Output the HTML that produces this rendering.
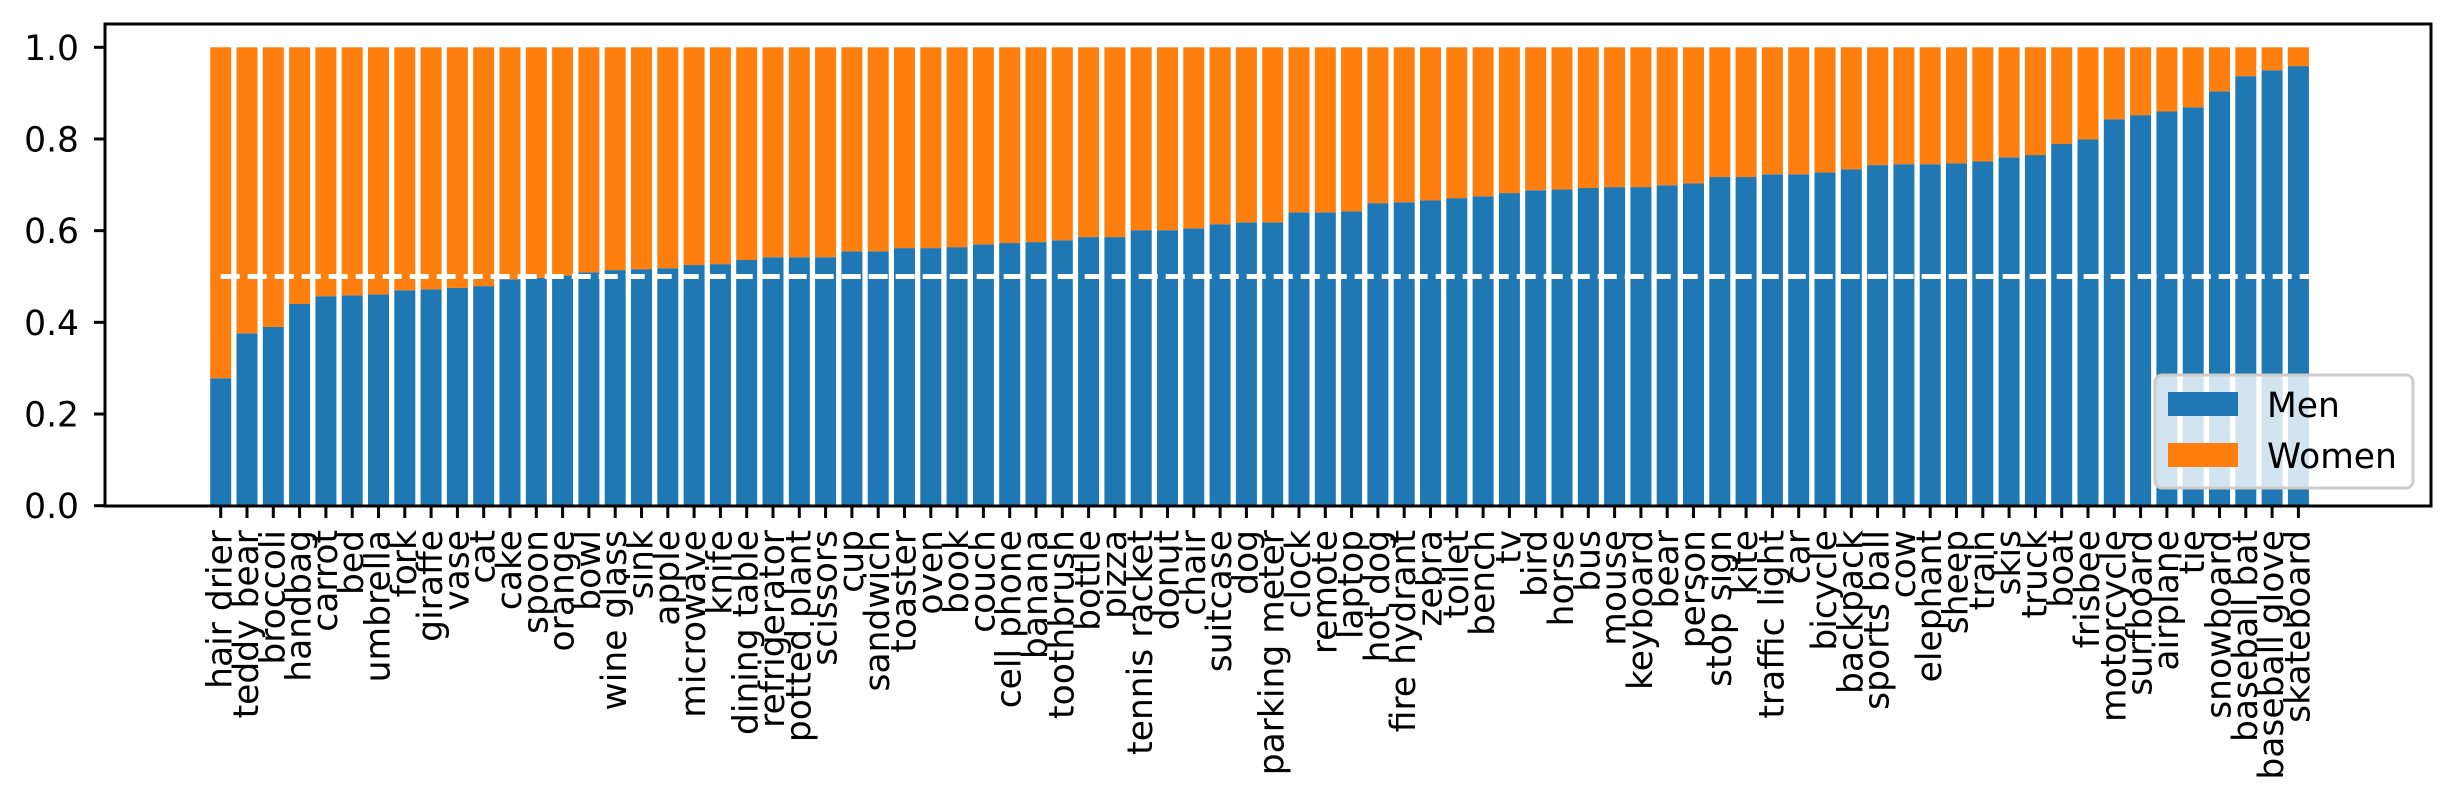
<!DOCTYPE html>
<html><head><meta charset="utf-8"><style>
html,body{margin:0;padding:0;background:#fff;}
svg{display:block;font-family:"DejaVu Sans","Liberation Sans",sans-serif;}
</style></head><body>
<svg id="chart" width="2454" height="806" viewBox="0 0 2454 806" xmlns="http://www.w3.org/2000/svg">
<g id="bars"></g>
<g id="xaxis"></g>
<g id="yaxis"></g>
<line id="refline" stroke="#fff" stroke-width="5" stroke-dasharray="19 8"/>
<rect x="105" y="24" width="2326" height="482" fill="none" stroke="#000" stroke-width="3"/>
<g>
<rect x="2155" y="375" width="258" height="113" rx="7" fill="#fff" fill-opacity="0.8" stroke="#ccc" stroke-width="3"/>
<rect x="2168" y="392" width="70" height="24" fill="#1f77b4"/>
<text x="2267" y="417" font-size="34.5">Men</text>
<rect x="2168" y="443" width="70" height="24" fill="#ff7f0e"/>
<text x="2267" y="468" font-size="34.5">Women</text>
</g>
</svg>
<script>
const categories = ["hair drier","teddy bear","broccoli","handbag","carrot","bed","umbrella","fork","giraffe","vase","cat","cake","spoon","orange","bowl","wine glass","sink","apple","microwave","knife","dining table","refrigerator","potted plant","scissors","cup","sandwich","toaster","oven","book","couch","cell phone","banana","toothbrush","bottle","pizza","tennis racket","donut","chair","suitcase","dog","parking meter","clock","remote","laptop","hot dog","fire hydrant","zebra","toilet","bench","tv","bird","horse","bus","mouse","keyboard","bear","person","stop sign","kite","traffic light","car","bicycle","backpack","sports ball","cow","elephant","sheep","train","skis","truck","boat","frisbee","motorcycle","surfboard","airplane","tie","snowboard","baseball bat","baseball glove","skateboard"];
const menShare = [0.278,0.376,0.390,0.440,0.457,0.459,0.461,0.470,0.472,0.475,0.479,0.494,0.497,0.502,0.509,0.514,0.516,0.518,0.525,0.527,0.536,0.542,0.542,0.542,0.555,0.555,0.562,0.562,0.564,0.570,0.573,0.575,0.579,0.586,0.586,0.601,0.601,0.605,0.614,0.618,0.618,0.640,0.640,0.642,0.660,0.662,0.666,0.671,0.675,0.682,0.688,0.690,0.693,0.695,0.695,0.699,0.703,0.717,0.717,0.723,0.723,0.727,0.734,0.743,0.745,0.745,0.747,0.751,0.760,0.765,0.789,0.799,0.843,0.852,0.860,0.869,0.904,0.937,0.950,0.959];
const yTicks = [0.0,0.2,0.4,0.6,0.8,1.0];
const yTickLabels = ["0.0","0.2","0.4","0.6","0.8","1.0"];
const parity = 0.5;

const NS="http://www.w3.org/2000/svg";
const y0=505.7, yUnit=458.4;
const xStart=220.7, xStep=26.3, barW=21;
const X=i=>xStart+i*xStep;
const Y=v=>y0-v*yUnit;
function mk(tag,attrs,parent){const e=document.createElementNS(NS,tag);for(const k in attrs)e.setAttribute(k,attrs[k]);parent.appendChild(e);return e;}
const gb=document.getElementById('bars'), gx=document.getElementById('xaxis'), gy=document.getElementById('yaxis');
categories.forEach((c,i)=>{
  const m=menShare[i];
  const b=mk('rect',{x:X(i)-barW/2,y:Y(m),width:barW,height:Y(0)-Y(m),fill:'#1f77b4'},gb);
  
  
  const w=mk('rect',{x:X(i)-barW/2,y:Y(1),width:barW,height:Y(m)-Y(1),fill:'#ff7f0e'},gb);
  
  
  const t=mk('line',{x1:X(i),x2:X(i),y1:506,y2:518,stroke:'#000','stroke-width':3},gx);
  
  
  const l=mk('text',{transform:`translate(${X(i)},530) rotate(-90)`,'text-anchor':'end','dominant-baseline':'central','font-size':34.5},gx);
  
  
  l.textContent=c;
});
yTicks.forEach((v,i)=>{
  const t=mk('line',{x1:94,x2:105,y1:Y(v),y2:Y(v),stroke:'#000','stroke-width':3},gy);
  
  
  const l=mk('text',{x:79,y:Y(v)+12.5,'text-anchor':'end','font-size':34.5},gy);
  
  
  l.textContent=yTickLabels[i];
});
const rl=document.getElementById('refline');
rl.setAttribute('x1',X(0));rl.setAttribute('x2',X(categories.length-1)+barW/2);
rl.setAttribute('y1',Y(parity));rl.setAttribute('y2',Y(parity));
</script>
</body></html>
